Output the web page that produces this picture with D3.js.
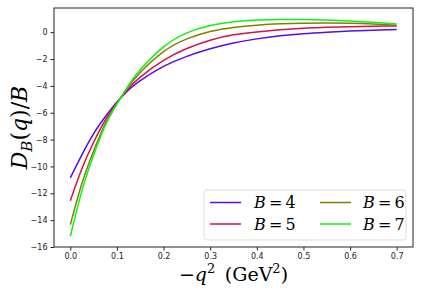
<!DOCTYPE html>
<html>
<head>
<meta charset="utf-8">
<script src="https://cdn.jsdelivr.net/npm/d3@7"></script>
<style>
body { margin: 0; background: #fff; }
.tick text { font-family: "DejaVu Sans", sans-serif; font-size: 8px; fill: #222; }
.math { font-family: "DejaVu Serif", "Liberation Serif", serif; fill: #000; }
</style>
</head>
<body>
<script>
// readings of -q^2 (GeV^2) and D_B(q)/B for each B
var qVals = [0, 0.025, 0.05, 0.075, 0.1, 0.125, 0.15, 0.2, 0.25, 0.3, 0.35, 0.4, 0.45, 0.5, 0.55, 0.6, 0.65, 0.7];
var dB4 = [-10.85, -9.12, -7.55, -6.30, -5.20, -4.30, -3.60, -2.55, -1.80, -1.24, -0.81, -0.50, -0.27, -0.11, 0.00, 0.09, 0.15, 0.19];
var dB5 = [-12.55, -10.15, -8.20, -6.55, -5.25, -4.20, -3.35, -2.10, -1.22, -0.60, -0.20, 0.02, 0.18, 0.29, 0.36, 0.41, 0.44, 0.46];
var dB6 = [-14.33, -11.25, -8.85, -6.80, -5.30, -4.05, -3.00, -1.45, -0.50, 0.05, 0.35, 0.52, 0.62, 0.67, 0.69, 0.67, 0.61, 0.52];
var dB7 = [-15.2, -11.8, -9.15, -6.95, -5.35, -3.95, -2.8, -1.1, -0.05, 0.5, 0.78, 0.91, 0.95, 0.94, 0.9, 0.83, 0.73, 0.6];
var bLabels = ["4", "5", "6", "7"];
var colors = ["#5a0ae6", "#d2124a", "#808000", "#11f011"];
var xTicks = [0, 0.1, 0.2, 0.3, 0.4, 0.5, 0.6, 0.7];
var yTicks = [-16, -14, -12, -10, -8, -6, -4, -2, 0];

var series = [dB4, dB5, dB6, dB7];

var W = 422, H = 296;
var pLeft = 54, pRight = 413, pTop = 8, pBottom = 247;

var svg = d3.select("body").append("svg").attr("width", W).attr("height", H);

var x = d3.scaleLinear().domain([-0.035, 0.735]).range([pLeft, pRight]);
var y = d3.scaleLinear().domain([-16, 1.8]).range([pBottom, pTop]);

var line = d3.line()
    .x(function(d){ return x(d[0]); })
    .y(function(d){ return y(d[1]); })
    .curve(d3.curveNatural);

series.forEach(function(vals, i){
    svg.append("path")
        .datum(qVals.map(function(q, j){ return [q, vals[j]]; }))
        .attr("fill", "none")
        .attr("stroke", colors[i])
        .attr("stroke-width", 1.5)
        .attr("d", line);
});

// frame
svg.append("rect")
    .attr("x", pLeft).attr("y", pTop)
    .attr("width", pRight - pLeft).attr("height", pBottom - pTop)
    .attr("fill", "none").attr("stroke", "#222").attr("stroke-width", 1);

var xAxis = svg.append("g").attr("transform", "translate(0," + pBottom + ")")
    .call(d3.axisBottom(x).tickValues(xTicks).tickFormat(d3.format(".1f")).tickSize(3.5).tickPadding(3));
var yAxis = svg.append("g").attr("transform", "translate(" + pLeft + ",0)")
    .call(d3.axisLeft(y).tickValues(yTicks).tickFormat(d3.format("d")).tickSize(3.5).tickPadding(3));
[xAxis, yAxis].forEach(function(a){
    a.select(".domain").remove();
    a.selectAll(".tick line").attr("stroke", "#222");
});

// x label
var xl = svg.append("text").attr("class", "math")
    .attr("x", (pLeft + pRight) / 2).attr("y", 281)
    .attr("text-anchor", "middle").style("font-size", "19px");
xl.append("tspan").text("\u2212");
xl.append("tspan").style("font-style", "italic").text("q");
xl.append("tspan").attr("dy", -8).style("font-size", "13px").text("2");
xl.append("tspan").attr("dy", 8).text("\u2002(GeV");
xl.append("tspan").attr("dy", -8).style("font-size", "13px").text("2");
xl.append("tspan").attr("dy", 8).text(")");

// y label
var yl = svg.append("text").attr("class", "math")
    .attr("transform", "translate(27," + ((pTop + pBottom) / 2) + ") rotate(-90)")
    .attr("text-anchor", "middle").style("font-size", "22px");
yl.append("tspan").style("font-style", "italic").text("D");
yl.append("tspan").attr("dy", 5).style("font-style", "italic").style("font-size", "15px").text("B");
yl.append("tspan").attr("dy", -5).text("(");
yl.append("tspan").style("font-style", "italic").text("q");
yl.append("tspan").text(")/");
yl.append("tspan").style("font-style", "italic").text("B");

// legend
var lg = svg.append("g");
lg.append("rect")
    .attr("x", 204).attr("y", 190).attr("width", 202).attr("height", 50)
    .attr("rx", 3).attr("fill", "#fff").attr("fill-opacity", 0.8)
    .attr("stroke", "#ddd").attr("stroke-width", 1);
bLabels.forEach(function(b, i){
    var col = Math.floor(i / 2), row = i % 2;
    var lx = 210 + col * 110, ly = 202.5 + row * 21.5;
    lg.append("line")
        .attr("x1", lx).attr("x2", lx + 31)
        .attr("y1", ly).attr("y2", ly)
        .attr("stroke", colors[i]).attr("stroke-width", 1.5);
    var t = lg.append("text").attr("class", "math")
        .attr("x", col === 0 ? lx + 44 : lx + 43).attr("y", ly + 5.5)
        .style("font-size", "16px");
    t.append("tspan").style("font-style", "italic").text("B");
    t.append("tspan").text("\u2009=\u2009" + b);
});
</script>
</body>
</html>
